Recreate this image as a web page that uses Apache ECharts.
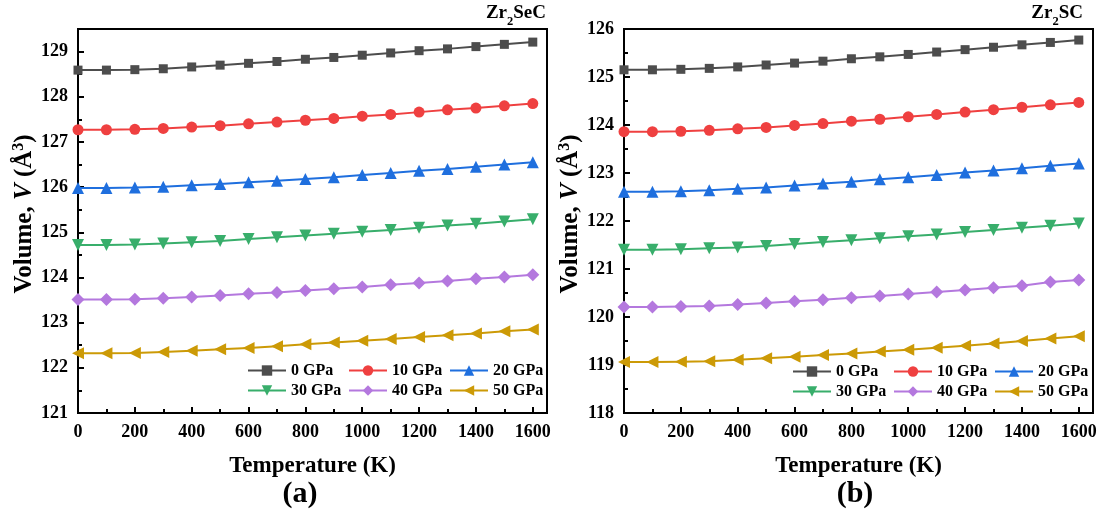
<!DOCTYPE html>
<html>
<head>
<meta charset="utf-8">
<script src="https://cdn.jsdelivr.net/npm/echarts@6/dist/echarts.min.js"></script>
<style>html,body{margin:0;padding:0;background:#fff}#c{width:1102px;height:514px}</style>
</head>
<body>
<div id="c"></div>
<script>
// ---- data ----
const temperatures = [0,100,200,300,400,500,600,700,800,900,1000,1100,1200,1300,1400,1500,1600];
const pressureLabels = ['0 GPa','10 GPa','20 GPa','30 GPa','40 GPa','50 GPa'];
const xTicks = [0,200,400,600,800,1000,1200,1400,1600];
const yTicksSeC = [121,122,123,124,125,126,127,128,129];
const yTicksSC = [118,119,120,121,122,123,124,125,126];

// Zr2SeC volumes (Å^3)
const seC_0GPa  = [128.59,128.59,128.60,128.62,128.66,128.70,128.74,128.78,128.83,128.87,128.92,128.97,129.02,129.06,129.11,129.16,129.21];
const seC_10GPa = [127.27,127.27,127.28,127.30,127.33,127.36,127.40,127.44,127.48,127.52,127.57,127.61,127.66,127.71,127.75,127.80,127.85];
const seC_20GPa = [125.98,125.98,125.99,126.01,126.04,126.07,126.11,126.14,126.18,126.22,126.27,126.31,126.36,126.40,126.45,126.50,126.55];
const seC_30GPa = [124.72,124.72,124.73,124.75,124.78,124.81,124.85,124.89,124.93,124.97,125.01,125.05,125.10,125.15,125.19,125.24,125.29];
const seC_40GPa = [123.51,123.51,123.52,123.54,123.57,123.60,123.64,123.67,123.71,123.75,123.79,123.84,123.88,123.92,123.97,124.01,124.06];
const seC_50GPa = [122.32,122.32,122.33,122.35,122.38,122.41,122.44,122.48,122.52,122.56,122.60,122.64,122.68,122.72,122.76,122.81,122.85];

// Zr2SC volumes (Å^3)
const sC_0GPa  = [125.15,125.15,125.16,125.18,125.21,125.25,125.29,125.33,125.38,125.42,125.47,125.52,125.57,125.62,125.67,125.72,125.77];
const sC_10GPa = [123.86,123.86,123.87,123.89,123.92,123.95,123.99,124.03,124.08,124.12,124.17,124.22,124.27,124.32,124.37,124.42,124.47];
const sC_20GPa = [122.61,122.61,122.62,122.64,122.67,122.70,122.74,122.78,122.82,122.87,122.91,122.96,123.01,123.05,123.10,123.15,123.20];
const sC_30GPa = [121.40,121.40,121.41,121.43,121.45,121.48,121.52,121.56,121.60,121.64,121.68,121.72,121.77,121.81,121.86,121.90,121.95];
const sC_40GPa = [120.21,120.21,120.22,120.23,120.26,120.29,120.33,120.36,120.40,120.44,120.48,120.52,120.56,120.61,120.65,120.73,120.77];
const sC_50GPa = [119.06,119.06,119.07,119.08,119.11,119.14,119.17,119.21,119.24,119.28,119.32,119.36,119.40,119.45,119.50,119.55,119.60];

const seCSeries = [seC_0GPa, seC_10GPa, seC_20GPa, seC_30GPa, seC_40GPa, seC_50GPa];
const sCSeries = [sC_0GPa, sC_10GPa, sC_20GPa, sC_30GPa, sC_40GPa, sC_50GPa];

// ---- styles ----
const FONT = 'Liberation Serif';
const colors = ['#4d4d4d','#ef4040','#1f6fde','#38ae6b','#b478de','#cc9a06'];
const symbols = [
  {symbol:'rect', size:9, rotate:0},
  {symbol:'circle', size:11, rotate:0},
  {symbol:'triangle', size:12, rotate:0},
  {symbol:'triangle', size:12, rotate:180},
  {symbol:'diamond', size:13, rotate:0},
  {symbol:'triangle', size:12, rotate:90}
];
const black = '#000';
const lblStyle = {color:black, fontFamily:FONT, fontWeight:'bold', fontSize:18};

function mainX(g){
  return {
    gridIndex:g, type:'value', position:'bottom', min:0, max:1650, interval:200,
    axisLine:{show:true, onZero:false, lineStyle:{color:black, width:2}},
    axisTick:{show:true, inside:true, length:6, lineStyle:{color:black, width:2}},
    axisLabel:Object.assign({margin:10, showMaxLabel:false,
      formatter:v => xTicks.indexOf(v) >= 0 ? String(v) : ''}, lblStyle),
    splitLine:{show:false},
    name:'Temperature (K)', nameLocation:'middle', nameGap:42,
    nameTextStyle:{color:black, fontFamily:FONT, fontWeight:'bold', fontSize:23}
  };
}
function minorX(g){
  return {
    gridIndex:g, type:'value', position:'bottom', min:0, max:1650, interval:100,
    axisLine:{show:false}, axisLabel:{show:false}, splitLine:{show:false},
    axisTick:{show:true, inside:true, length:4, lineStyle:{color:black, width:2}}
  };
}
function mainY(g, min, max, ticks){
  return {
    gridIndex:g, type:'value', position:'left', min:min, max:max, interval:1,
    axisLine:{show:true, onZero:false, lineStyle:{color:black, width:2}},
    axisTick:{show:true, inside:true, length:6, lineStyle:{color:black, width:2}},
    axisLabel:Object.assign({margin:10,
      formatter:v => ticks.indexOf(v) >= 0 ? String(v) : ''}, lblStyle),
    splitLine:{show:false},
    name:'{n|Volume, }{i|V}{n| (Å}{s|3}{n|)}', nameLocation:'middle', nameGap:41, nameRotate:90,
    nameTextStyle:{
      padding:[0,0,0,14],
      rich:{
        n:{color:black, fontFamily:FONT, fontWeight:'bold', fontSize:25, lineHeight:26, verticalAlign:'bottom'},
        i:{color:black, fontFamily:FONT, fontWeight:'bold', fontStyle:'italic', fontSize:25, lineHeight:26, verticalAlign:'bottom'},
        s:{color:black, fontFamily:FONT, fontWeight:'bold', fontSize:16, lineHeight:16, verticalAlign:'top'}
      }
    }
  };
}
function minorY(g, min, max){
  return {
    gridIndex:g, type:'value', position:'left', min:min, max:max, interval:0.5,
    axisLine:{show:false}, axisLabel:{show:false}, splitLine:{show:false},
    axisTick:{show:true, inside:true, length:4, lineStyle:{color:black, width:2}}
  };
}

function buildSeries(sets, xIdx, yIdx){
  return sets.map((vals, k) => ({
    name: pressureLabels[k], type:'line',
    xAxisIndex:xIdx, yAxisIndex:yIdx,
    data: temperatures.map((t, j) => [t, vals[j]]),
    symbol: symbols[k].symbol, symbolSize: symbols[k].size, symbolRotate: symbols[k].rotate,
    showAllSymbol:true, clip:false,
    lineStyle:{color:colors[k], width:2},
    itemStyle:{color:colors[k]},
    emphasis:{disabled:true},
    animation:false
  }));
}

function legendRow(left, top, names){
  return {
    left:left, top:top, orient:'horizontal', padding:0, itemGap:0,
    itemWidth:38, itemHeight:13,
    data:names,
    textStyle:{color:black, fontFamily:FONT, fontWeight:'bold', fontSize:16, width:57, lineHeight:19, padding:[0,0,0,0]}
  };
}

const titleRich = {
  b:{color:black, fontFamily:FONT, fontWeight:'bold', fontSize:19, lineHeight:21, verticalAlign:'top'},
  s:{color:black, fontFamily:FONT, fontWeight:'bold', fontSize:12.5, lineHeight:12, verticalAlign:'bottom', padding:[0,0,-3,0]}
};

const option = {
  animation:false,
  backgroundColor:'#fff',
  title:[
    {text:'{b|Zr}{s|2}{b|SeC}', right:1102-546, top:4, padding:0, textStyle:{rich:titleRich}},
    {text:'{b|Zr}{s|2}{b|SC}', right:1102-1083, top:4, padding:0, textStyle:{rich:titleRich}}
  ],
  grid:[
    {left:78, top:29, width:469, height:384, show:true, borderColor:black, borderWidth:2, backgroundColor:'transparent'},
    {left:624, top:29, width:469, height:384, show:true, borderColor:black, borderWidth:2, backgroundColor:'transparent'}
  ],
  legend:[
    legendRow(247, 361, pressureLabels.slice(0,3)),
    legendRow(247, 381, pressureLabels.slice(3,6)),
    legendRow(792, 362, pressureLabels.slice(0,3)),
    legendRow(792, 382, pressureLabels.slice(3,6))
  ],
  xAxis:[mainX(0), minorX(0), mainX(1), minorX(1)],
  yAxis:[mainY(0,121,129.5,yTicksSeC), minorY(0,121,129.5), mainY(1,118,126,yTicksSC), minorY(1,118,126)],
  series: buildSeries(seCSeries, 0, 0).concat(buildSeries(sCSeries, 2, 2)),
  graphic:[
    {type:'text', x:300, y:494, style:{text:'(a)', fill:black, font:'bold 30px "Liberation Serif"', align:'center', verticalAlign:'middle'}},
    {type:'text', x:855, y:494, style:{text:'(b)', fill:black, font:'bold 30px "Liberation Serif"', align:'center', verticalAlign:'middle'}}
  ]
};

const chart = echarts.init(document.getElementById('c'), null, {renderer:'canvas'});
chart.setOption(option);
</script>
</body>
</html>
